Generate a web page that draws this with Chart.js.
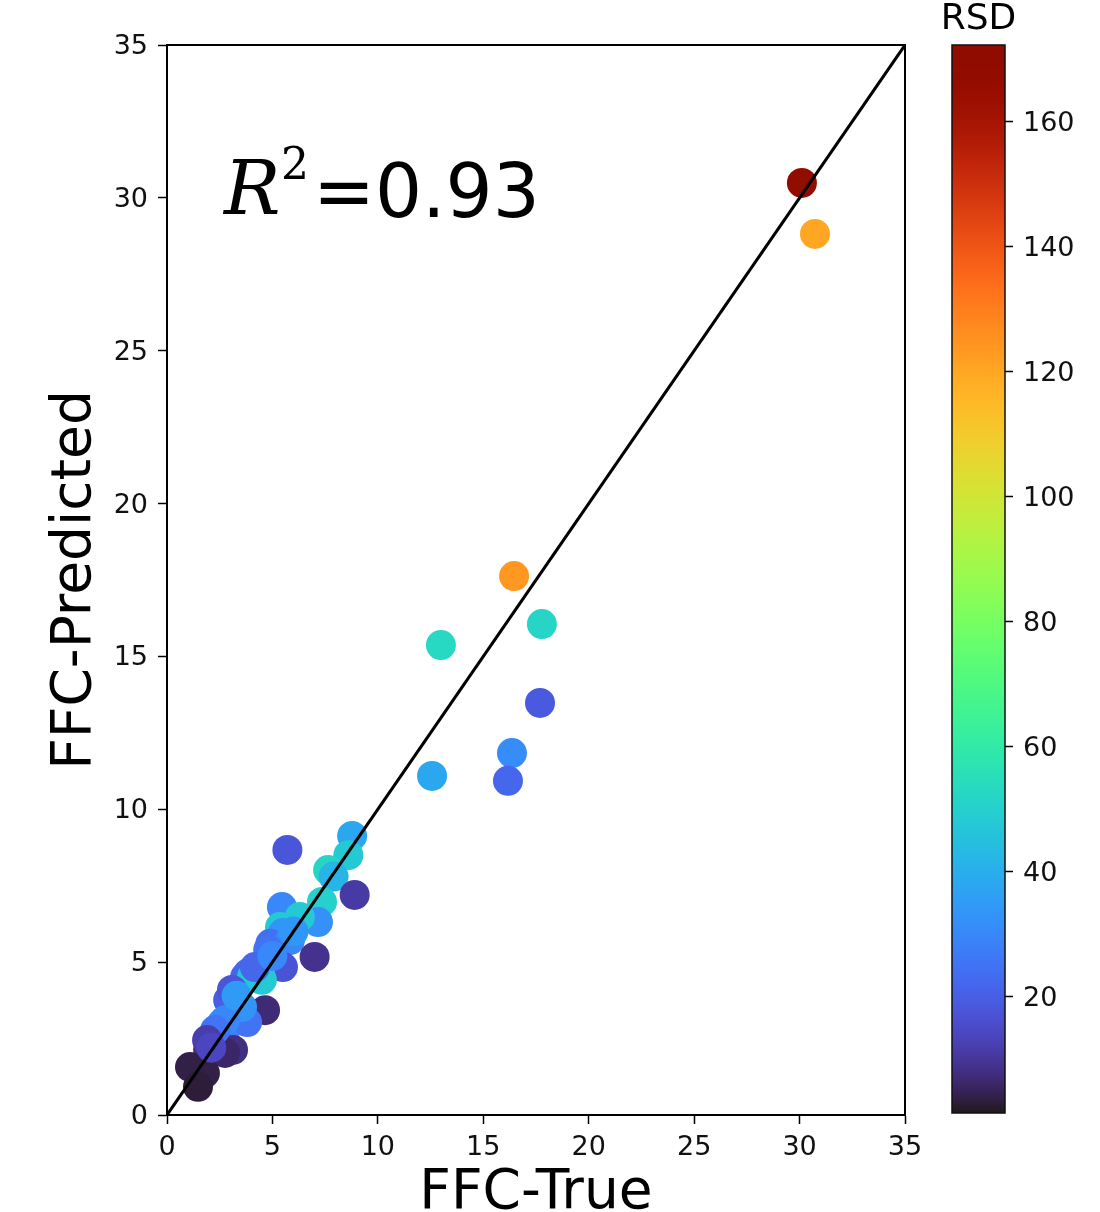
<!DOCTYPE html>
<html>
<head>
<meta charset="utf-8">
<script src="https://cdn.jsdelivr.net/npm/chart.js@4.4.0/dist/chart.umd.min.js"></script>
<style>
  html, body { margin: 0; padding: 0; background: #fff; }
  #wrap { position: relative; width: 1100px; height: 1212px; overflow: hidden; }
  #main { position: absolute; left: 0; top: 0; }
  #bar { position: absolute; left: 900px; top: 0; }
</style>
</head>
<body>
<div id="wrap">
  <canvas id="main" width="1100" height="1212"></canvas>
  <canvas id="bar" width="200" height="1212"></canvas>
</div>
<script>
// samples: true vs predicted FFC, coloured by RSD
let ffcTrue = [30.11, 30.73, 16.46, 17.78, 12.99, 17.69, 16.36, 16.17, 12.57,
  5.71, 8.78, 8.60, 7.64, 7.90, 8.90, 7.35, 5.45, 7.16, 6.30, 5.36, 5.50, 4.90, 5.83,
  7.00, 5.50, 4.40, 4.50, 3.85, 3.70, 4.65, 3.30, 3.08, 2.90, 3.80, 2.60, 2.66,
  2.75, 3.13, 1.95, 2.75, 1.09, 1.80, 1.47,
  4.03, 3.56, 2.75, 4.80, 4.17, 3.08, 2.28, 1.90, 5.00, 3.30, 2.10, 6.00];
let ffcPred = [30.49, 28.82, 17.63, 16.06, 15.37, 13.48, 11.84, 10.93, 11.09,
  8.67, 9.13, 8.50, 8.01, 7.80, 7.20, 6.97, 6.80, 6.31, 6.48, 6.15, 5.95, 5.60, 5.72,
  5.17, 4.84, 4.65, 4.42, 4.64, 4.51, 3.43, 3.54, 3.66, 3.76, 3.04, 3.00, 2.55,
  2.45, 2.13, 2.13, 2.03, 1.57, 1.37, 0.92,
  4.51, 3.53, 3.10, 5.40, 4.84, 4.09, 2.78, 2.45, 5.20, 3.90, 2.20, 6.00];
let rsd = [172, 120, 124, 52, 53, 19, 31, 22, 38,
  18, 38, 48, 52, 42, 11, 50, 30, 32, 48, 48, 33, 24, 30,
  9, 17, 46, 48, 24, 22, 7, 32, 30, 20, 25, 35, 26,
  28, 8, 8, 6, 4, 4, 3,
  47, 33, 30, 25, 22, 18, 25, 12, 30, 35, 14, 34];

let axisTicks = [0, 5, 10, 15, 20, 25, 30, 35];
let rsdTicks = [20, 40, 60, 80, 100, 120, 140, 160];
let rsdMin = 1.4;
let rsdMax = 172.3;
let r2Value = "0.93";

let sans = "'DejaVu Sans', 'Liberation Sans', sans-serif";
let serif = "'DejaVu Serif', 'Liberation Serif', serif";

// turbo colormap (polynomial approximation)
let turbo = (t) => {
  t = Math.min(1, Math.max(0, t));
  let r = 0.13572138 + t * (4.61539260 + t * (-42.66032258 + t * (132.13108234 + t * (-152.94239396 + t * 59.28637943))));
  let g = 0.09140261 + t * (2.19418839 + t * (4.84296658 + t * (-14.18503333 + t * (4.27729857 + t * 2.82956604))));
  let b = 0.10667330 + t * (12.64194608 + t * (-60.58204836 + t * (110.36276771 + t * (-89.90310912 + t * 27.34824973))));
  let c = (v) => Math.round(255 * Math.min(1, Math.max(0, v)));
  return `rgb(${c(r)},${c(g)},${c(b)})`;
};
let rsdColor = (v) => turbo((v - rsdMin) / (rsdMax - rsdMin));

let points = ffcTrue.map((x, i) => ({ x: x, y: ffcPred[i] }));
let pointColors = rsd.map(rsdColor);

// box around the plot and the R² label
let framePlugin = {
  id: "frame",
  afterDraw(chart) {
    let ctx = chart.ctx;
    let a = chart.chartArea;
    ctx.save();
    ctx.strokeStyle = "#000";
    ctx.lineWidth = 2;
    ctx.strokeRect(a.left, a.top, a.right - a.left, a.bottom - a.top);

    ctx.fillStyle = "#000";
    ctx.textBaseline = "alphabetic";
    ctx.textAlign = "left";
    ctx.font = `italic 75px ${serif}`;
    ctx.fillText("R", a.left + 57, a.top + 169);
    ctx.font = `44px ${serif}`;
    ctx.fillText("2", a.left + 114, a.top + 134);
    ctx.font = `74px ${sans}`;
    ctx.fillText("=" + r2Value, a.left + 146, a.top + 172);
    ctx.restore();
  },
};

let tickFont = { family: sans, size: 27 };

new Chart(document.getElementById("main"), {
  type: "scatter",
  data: {
    datasets: [
      {
        label: "y = x",
        data: [{ x: 0, y: 0 }, { x: 35, y: 35 }],
        showLine: true,
        borderColor: "#000",
        borderWidth: 3,
        pointRadius: 0,
      },
      {
        label: "FFC",
        data: points,
        pointRadius: 15,
        pointHoverRadius: 15,
        pointBorderWidth: 0,
        pointBackgroundColor: pointColors,
      },
    ],
  },
  options: {
    responsive: false,
    animation: false,
    events: [],
    layout: { padding: { top: 45, right: 195, left: 0, bottom: 0 } },
    plugins: { legend: { display: false }, tooltip: { enabled: false } },
    scales: {
      x: {
        type: "linear",
        min: 0,
        max: 35,
        afterBuildTicks: (s) => { s.ticks = axisTicks.map((v) => ({ value: v })); },
        ticks: { font: tickFont, color: "#111", padding: 8 },
        grid: { drawOnChartArea: false, tickLength: 9, tickColor: "#000", tickWidth: 1.5 },
        border: { display: true, color: "#000", width: 2 },
        title: {
          display: true,
          text: "FFC-True",
          color: "#000",
          font: { family: sans, size: 55, lineHeight: 0.6 },
          padding: { top: 0, bottom: 1.5 },
        },
        afterFit: (s) => { s.height = 97; },
      },
      y: {
        type: "linear",
        min: 0,
        max: 35,
        afterBuildTicks: (s) => { s.ticks = axisTicks.map((v) => ({ value: v })); },
        ticks: { font: tickFont, color: "#111", padding: 10, labelOffset: 2 },
        grid: { drawOnChartArea: false, tickLength: 9, tickColor: "#000", tickWidth: 1.5 },
        border: { display: true, color: "#000", width: 2 },
        title: {
          display: true,
          text: "FFC-Predicted",
          color: "#000",
          font: { family: sans, size: 55, lineHeight: 1.2 },
          padding: { top: 43, bottom: 0 },
        },
        afterFit: (s) => { s.width = 167; },
      },
    },
  },
  plugins: [framePlugin],
});

// colour bar: gradient painted along the RSD scale
let colorbarPlugin = {
  id: "colorbar",
  beforeDatasetsDraw(chart) {
    let ctx = chart.ctx;
    let a = chart.chartArea;
    let y = chart.scales.y;
    ctx.save();
    for (let py = a.top; py < a.bottom; py++) {
      ctx.fillStyle = rsdColor(y.getValueForPixel(py + 0.5));
      ctx.fillRect(a.left, py, a.right - a.left, 1);
    }
    ctx.strokeStyle = "#111";
    ctx.lineWidth = 1.5;
    ctx.strokeRect(a.left, a.top, a.right - a.left, a.bottom - a.top);
    ctx.fillStyle = "#000";
    ctx.font = `36px ${sans}`;
    ctx.textAlign = "center";
    ctx.textBaseline = "alphabetic";
    ctx.fillText("RSD", (a.left + a.right) / 2, 29);
    ctx.restore();
  },
};

new Chart(document.getElementById("bar"), {
  type: "scatter",
  data: { datasets: [] },
  options: {
    responsive: false,
    animation: false,
    events: [],
    layout: { padding: { top: 45, bottom: 99, left: 52, right: 0 } },
    plugins: { legend: { display: false }, tooltip: { enabled: false } },
    scales: {
      x: { display: false },
      y: {
        position: "right",
        min: rsdMin,
        max: rsdMax,
        afterBuildTicks: (s) => { s.ticks = rsdTicks.map((v) => ({ value: v })); },
        ticks: { font: tickFont, color: "#111", padding: 10, labelOffset: 2 },
        grid: { drawOnChartArea: false, tickLength: 8, tickColor: "#000", tickWidth: 1.5 },
        border: { display: false },
        afterFit: (s) => { s.width = 95; },
      },
    },
  },
  plugins: [colorbarPlugin],
});
</script>
</body>
</html>
